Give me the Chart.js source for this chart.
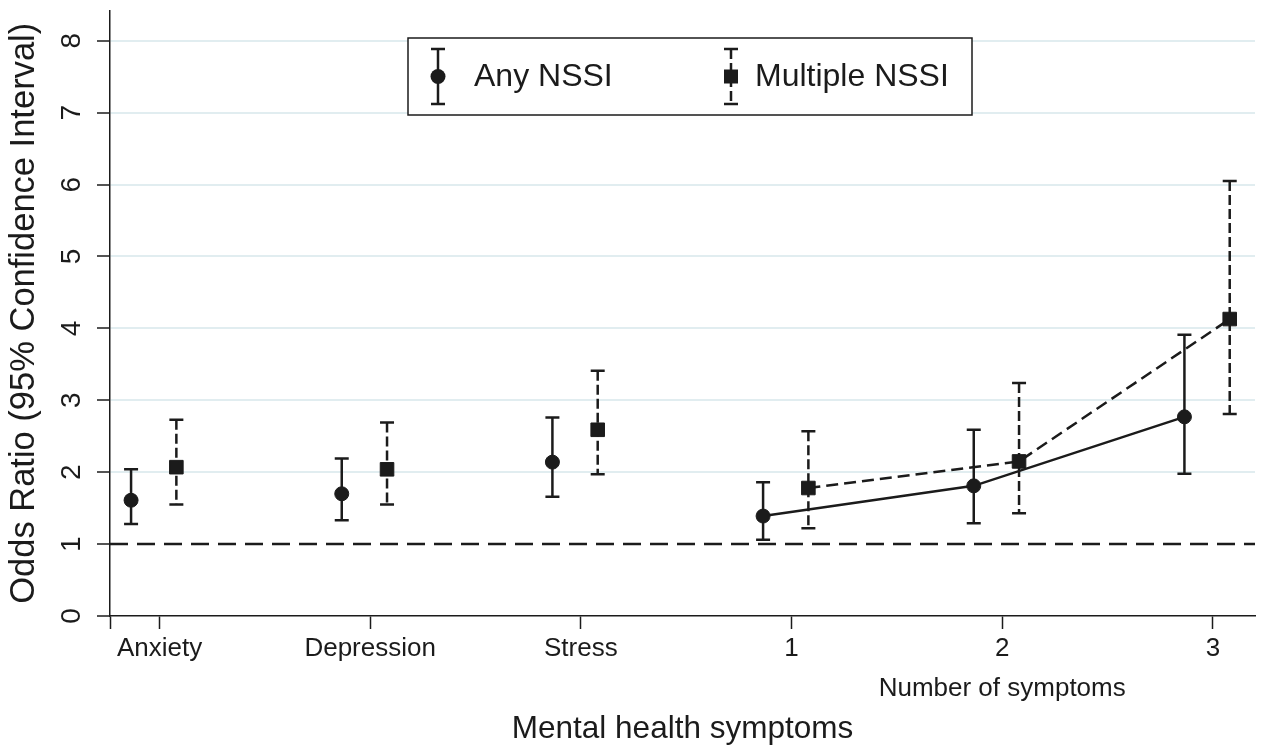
<!DOCTYPE html>
<html>
<head>
<meta charset="utf-8">
<script src="https://cdn.jsdelivr.net/npm/chart.js@4.4.1/dist/chart.umd.min.js"></script>
<style>
  html, body { margin: 0; padding: 0; background: #fff; }
  #wrap { width: 1267px; height: 748px; }
</style>
</head>
<body>
<div id="wrap"><canvas id="chartOR" width="1267" height="748"></canvas></div>
<script>
// categories on the x axis, the last three are grouped as "Number of symptoms"
const categories = ['Anxiety', 'Depression', 'Stress', '1', '2', '3'];
const groupLabel = 'Number of symptoms';
const yTicks = [0, 1, 2, 3, 4, 5, 6, 7, 8];

// Any NSSI: odds ratio and 95% CI
const anyOR = [1.61, 1.70, 2.14, 1.39, 1.81, 2.77];
const anyLo = [1.28, 1.33, 1.66, 1.06, 1.29, 1.98];
const anyHi = [2.04, 2.19, 2.76, 1.86, 2.59, 3.91];

// Multiple NSSI: odds ratio and 95% CI
const multOR = [2.07, 2.04, 2.59, 1.78, 2.15, 4.13];
const multLo = [1.55, 1.55, 1.97, 1.22, 1.43, 2.81];
const multHi = [2.73, 2.69, 3.41, 2.57, 3.24, 6.05];

const refLine = 1;

const FONT = "'Liberation Sans', Arial, sans-serif";
const INK = '#1b1b1b';
const X_MIN = -0.235;
const X_MAX = 5.2;

function drawErrorBar(ctx, x, yTop, yBottom, dashed, cap) {
  ctx.save();
  ctx.strokeStyle = INK;
  ctx.lineWidth = 2.5;
  ctx.setLineDash(dashed ? [10, 4] : []);
  ctx.beginPath();
  ctx.moveTo(x, yTop);
  ctx.lineTo(x, yBottom);
  ctx.stroke();
  ctx.setLineDash([]);
  ctx.beginPath();
  ctx.moveTo(x - cap / 2, yTop);
  ctx.lineTo(x + cap / 2, yTop);
  ctx.moveTo(x - cap / 2, yBottom);
  ctx.lineTo(x + cap / 2, yBottom);
  ctx.stroke();
  ctx.restore();
}

const errorBars = {
  id: 'errorBars',
  beforeDatasetsDraw(chart) {
    const { ctx, chartArea, scales: { x, y } } = chart;
    // dashed reference line at OR = 1
    const yRef = y.getPixelForValue(refLine);
    ctx.save();
    ctx.strokeStyle = INK;
    ctx.lineWidth = 2.5;
    ctx.setLineDash([18, 9]);
    ctx.beginPath();
    ctx.moveTo(chartArea.left, yRef);
    ctx.lineTo(chartArea.right, yRef);
    ctx.stroke();
    ctx.restore();

    chart.data.datasets.forEach(ds => {
      ds.data.forEach((p, i) => {
        drawErrorBar(ctx, x.getPixelForValue(p.x), y.getPixelForValue(ds.hi[i]),
          y.getPixelForValue(ds.lo[i]), ds.errDashed, 14);
      });
    });
  }
};

const boxLegend = {
  id: 'boxLegend',
  afterDraw(chart) {
    const ctx = chart.ctx;
    const box = { left: 408, top: 38, right: 972, bottom: 115 };
    const symX = [438, 731];
    const textX = [474, 755];
    const midY = (box.top + box.bottom) / 2;
    ctx.save();
    ctx.fillStyle = '#fff';
    ctx.fillRect(box.left, box.top, box.right - box.left, box.bottom - box.top);
    ctx.strokeStyle = INK;
    ctx.lineWidth = 1.5;
    ctx.strokeRect(box.left, box.top, box.right - box.left, box.bottom - box.top);
    chart.data.datasets.forEach((ds, i) => {
      drawErrorBar(ctx, symX[i], box.top + 11, box.bottom - 11, ds.errDashed, 14);
      ctx.fillStyle = INK;
      ctx.beginPath();
      if (ds.pointStyle === 'circle') {
        ctx.arc(symX[i], midY, 7.5, 0, Math.PI * 2);
      } else {
        ctx.rect(symX[i] - 7, midY - 7, 14, 14);
      }
      ctx.fill();
      ctx.font = '32px ' + FONT;
      ctx.textBaseline = 'middle';
      ctx.textAlign = 'left';
      ctx.fillText(ds.label, textX[i], midY + 1);
    });
    ctx.restore();
  }
};

const chartOR = new Chart(document.getElementById('chartOR'), {
  type: 'line',
  data: {
    datasets: [{
      label: 'Any NSSI',
      data: anyOR.map((v, i) => ({ x: i - 0.135, y: v })),
      lo: anyLo,
      hi: anyHi,
      errDashed: false,
      pointStyle: 'circle',
      pointRadius: 7,
      pointBorderWidth: 1,
      pointBackgroundColor: INK,
      pointBorderColor: INK,
      borderColor: INK,
      borderWidth: 2.5,
      segment: { borderColor: c => c.p0DataIndex >= 3 ? INK : 'transparent' },
      tension: 0
    }, {
      label: 'Multiple NSSI',
      data: multOR.map((v, i) => ({ x: i + 0.08, y: v })),
      lo: multLo,
      hi: multHi,
      errDashed: true,
      pointStyle: 'rect',
      pointRadius: 9.6,
      pointBorderWidth: 1,
      pointBackgroundColor: INK,
      pointBorderColor: INK,
      borderColor: INK,
      borderWidth: 2.5,
      borderDash: [12, 6],
      segment: { borderColor: c => c.p0DataIndex >= 3 ? INK : 'transparent' },
      tension: 0
    }]
  },
  options: {
    responsive: false,
    animation: false,
    devicePixelRatio: 1,
    events: [],
    layout: { padding: { top: 10, right: 12, left: 0, bottom: 0 } },
    plugins: {
      legend: { display: false },
      tooltip: { enabled: false }
    },
    scales: {
      x: {
        type: 'linear',
        min: X_MIN,
        max: X_MAX,
        afterBuildTicks: s => {
          s.ticks = [{ value: X_MIN }].concat(categories.map((c, i) => ({ value: i })));
        },
        afterFit: s => {
          s.height = 132;
          s.paddingLeft = 0;
          s.paddingRight = 0;
        },
        border: { color: INK, width: 1.5 },
        grid: { drawOnChartArea: false, tickLength: 13, tickColor: INK, tickWidth: 1.5 },
        ticks: {
          padding: 0,
          color: INK,
          maxRotation: 0,
          autoSkip: false,
          font: { family: FONT, size: 26, lineHeight: 1.54 },
          callback: v => {
            if (!Number.isInteger(v)) return '';
            return v === 4 ? [categories[v], groupLabel] : categories[v];
          }
        },
        title: {
          display: true,
          text: 'Mental health symptoms',
          color: INK,
          font: { family: FONT, size: 31.5 },
          padding: { top: 0, bottom: 0 }
        }
      },
      y: {
        type: 'linear',
        min: 0,
        max: 8.42,
        afterBuildTicks: s => {
          s.ticks = yTicks.map(v => ({ value: v }));
        },
        afterFit: s => {
          s.width = 110;
          s.paddingTop = 0;
          s.paddingBottom = 0;
        },
        border: { color: INK, width: 1.5 },
        grid: {
          color: c => (c.tick && c.tick.value > refLine) ? '#e1edf0' : 'transparent',
          lineWidth: 2,
          tickLength: 13,
          tickColor: INK,
          tickWidth: 1.5
        },
        ticks: {
          minRotation: 90,
          maxRotation: 90,
          crossAlign: 'center',
          padding: 17,
          color: INK,
          font: { family: FONT, size: 28 }
        },
        title: {
          display: true,
          text: 'Odds Ratio (95% Confidence Interval)',
          color: INK,
          font: { family: FONT, size: 34.5 },
          padding: { top: 4, bottom: 0 }
        }
      }
    }
  },
  plugins: [errorBars, boxLegend]
});
</script>
</body>
</html>
